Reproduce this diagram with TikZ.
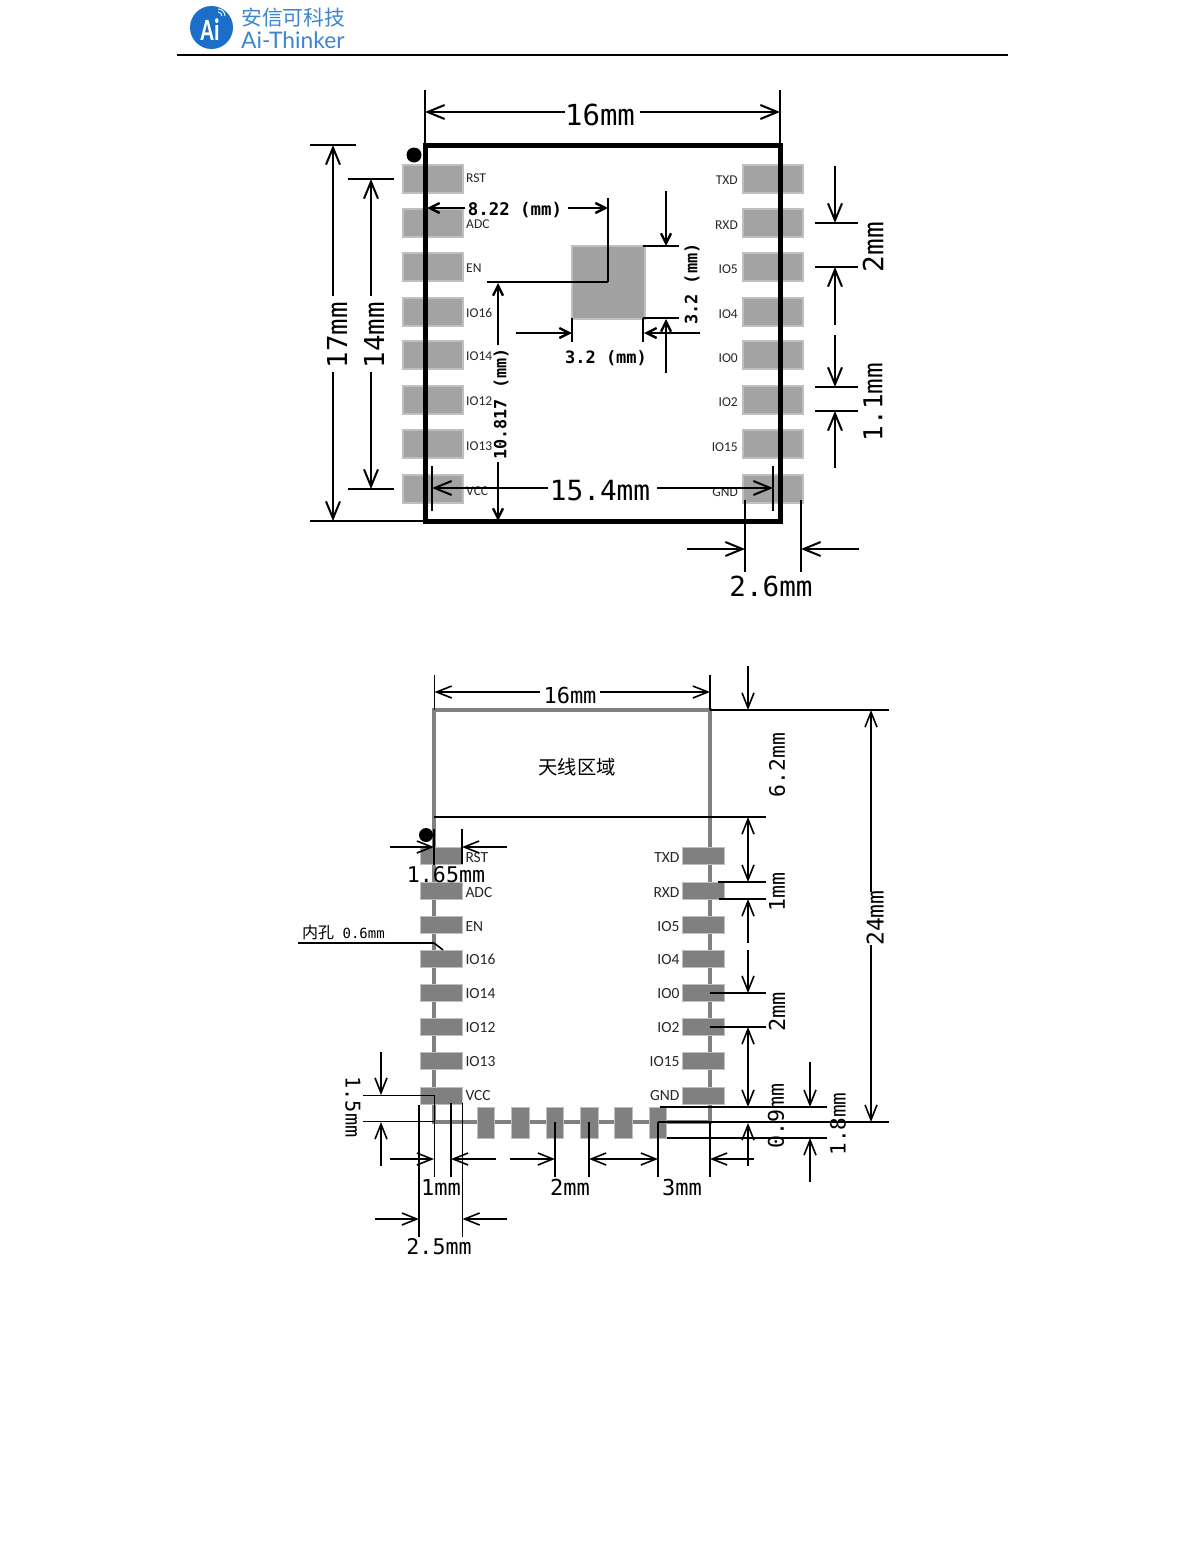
\documentclass[tikz,border=0pt]{standalone}
\usepackage{fontspec}
\usepackage{xcolor}
\usepackage{tikz}
\usetikzlibrary{arrows.meta,positioning}
\setmainfont{Carlito}
\setmonofont{DejaVu Sans Mono}
\newfontfamily\cjk{Noto Sans CJK SC}
\newfontfamily\logofont{Lato}
\definecolor{logoblue}{HTML}{1B6FC8}
\newcommand{\dimsize}[1]{\fontsize{#1}{#1}\selectfont\ttfamily}
\tikzset{
  toppad/.style={rectangle, draw=black!25, fill=black!36, line width=2, inner sep=0, minimum width=60, minimum height=28},
  botpad/.style={rectangle, draw=black!25, fill=black!50, line width=0.6, inner sep=0},
  toplabel/.style={inner sep=0, text=black!85, font=\fontsize{13.5}{13.5}\selectfont},
  botlabel/.style={inner sep=0, text=black!85, font=\fontsize{15.5}{15.5}\selectfont},
  dimtext/.style={inner sep=0},
  dimline/.style={draw=black, line width=2},
  dimarrow/.style={draw=black, line width=2, -{Straight Barb[length=17,width=14,line width=2]}},
  smallarrow/.style={draw=black, line width=2, -{Straight Barb[length=10,width=10,line width=2.4]}},
  botline/.style={draw=black, line width=1.6},
  botarrow/.style={draw=black, line width=1.6, -{Straight Barb[length=15,width=12,line width=1.6]}},
  bothead/.style={draw=black, line width=1.6, {Straight Barb[length=15,width=12,line width=1.6]}-{Straight Barb[length=15,width=12,line width=1.6]}}
}
\begin{document}
\begin{tikzpicture}[x=1pt, y=-1pt]
    \useasboundingbox (0,0) rectangle (1190,1542);

    % Logo
    \node[circle, fill=logoblue, minimum size=43, inner sep=0] (logo) at (211.5,27.5) {};
    \node[inner sep=0, text=white, font=\fontsize{31}{31}\selectfont\bfseries] (logoai) at (210,29.5) {\scalebox{0.72}[1]{Ai}};
    \draw[white, line width=0.9] (222,16) arc[start angle=0, end angle=90, radius=4pt];
    \draw[white, line width=0.9] (225,16) arc[start angle=0, end angle=90, radius=7pt];
    \node[anchor=west, inner sep=0, text=logoblue!85, font=\fontsize{20.8}{20.8}\selectfont\cjk] (logocn) at (241,18) {安信可科技};
    \node[anchor=west, inner sep=0, text=logoblue!85, font=\fontsize{22.8}{22.8}\selectfont\logofont] (logoen) at (241,40) {Ai-Thinker};
    \coordinate (headl) at (177,55);
    \coordinate (headr) at (1008,55);
    \draw[black, line width=1.2] (headl) -- (headr);

    % Pads, top view
    \foreach \i/\y/\ll/\ly/\rl/\ry in {1/178.5/RST/178/TXD/180, 2/223/ADC/224/RXD/225, 3/267/EN/268/IO5/269, 4/311.5/IO16/313/IO4/314, 5/355/IO14/356/IO0/358, 6/399.5/IO12/401/IO2/402, 7/444/IO13/446/IO15/447, 8/488.5/VCC/491/GND/492} {
      \node[toppad] (apadl\i) at (432.5,\y) {};
      \node[toppad] (apadr\i) at (773,\y) {};
      \node[toplabel, anchor=west] (alabl\i) at (466,\ly) {\ll};
      \node[toplabel, anchor=east] (alabr\i) at (738,\ry) {\rl};
    }
    \node[rectangle, draw=black!25, fill=black!37, line width=2, inner sep=0, minimum width=73, minimum height=73] (apadc) at (608,282) {};
    \node[rectangle, draw=black, line width=5, inner sep=0, minimum width=355, minimum height=376] (aboard) at (602.5,333) {};
    \node[circle, fill=black, minimum size=15, inner sep=0] (adot) at (414,155) {};

    % Witness lines, top view
    \foreach \n/\xa/\ya/\xb/\yb in {a1/425/90/425/145, a2/780/90/780/145, a3/310/145/356/145, a4/310/521/425/521, a5/348/179/394/179, a6/348/489/394/489, a7/608/198/608/282, a8/608/282/487/282, a9/432/466/432/511, a10/773/466/773/511, a11/643/246/679/246, a12/643/318/679/318, a13/643/318/643/342, a14/572/318/572/342, a15/815/223/858/223, a16/815/267/858/267, a17/815/387/858/387, a18/815/411/858/411, a19/745/500/745/572, a20/801/500/801/572} {
      \coordinate (\n-s) at (\xa,\ya);
      \coordinate (\n-e) at (\xb,\yb);
      \draw[dimline] (\n-s) -- (\n-e);
    }

    % Arrows, top view
    \foreach \n/\xa/\ya/\xb/\yb in {c1/565/112/425/112, c2/640/112/780/112, c3/333/296/333/145, c4/333/372/333/521, c5/371/296/371/179, c6/371/372/371/489, c7/548/488/432/488, c8/657/488/773/488, c9/835/166/835/223, c10/835/325/835/267, c11/835/335/835/387, c12/835/468/835/411, c13/687/549/745/549, c14/859/549/801/549} {
      \coordinate (\n-s) at (\xa,\ya);
      \coordinate (\n-e) at (\xb,\yb);
      \draw[dimarrow] (\n-s) -- (\n-e);
    }
    \foreach \n/\xa/\ya/\xb/\yb in {d1/465/208/427/208, d2/568/208/608/208, d3/498/345/498/283, d4/498/462/498/521, d5/516/333/572/333, d6/700/333/644/333, d7/666/191/666/246, d8/666/373/666/319} {
      \coordinate (\n-s) at (\xa,\ya);
      \coordinate (\n-e) at (\xb,\yb);
      \draw[smallarrow] (\n-s) -- (\n-e);
    }

    % Sizes, top view
    \node[dimtext, font=\dimsize{29}] (a16mm) at (600,115) {16mm};
    \node[dimtext, font=\dimsize{27.5}, rotate=90] (a17mm) at (337,335) {17mm};
    \node[dimtext, font=\dimsize{27.5}, rotate=90] (a14mm) at (374,335) {14mm};
    \node[dimtext, font=\dimsize{17.4}\bfseries] (a822) at (515,210) {8.22 (mm)};
    \node[dimtext, font=\dimsize{17}\bfseries] (a32h) at (606,358) {3.2 (mm)};
    \node[dimtext, font=\dimsize{17}\bfseries, rotate=90] (a32v) at (692,284) {3.2 (mm)};
    \node[dimtext, font=\dimsize{16.8}\bfseries, rotate=90] (a10817) at (501,404) {10.817 (mm)};
    \node[dimtext, font=\dimsize{27.8}] (a154) at (600,491) {15.4mm};
    \node[dimtext, font=\dimsize{27.8}, rotate=90] (a2mm) at (873,247) {2mm};
    \node[dimtext, font=\dimsize{26}, rotate=90] (a11) at (873,402) {1.1mm};
    \node[dimtext, font=\dimsize{27.6}] (a26) at (771,586) {2.6mm};

    % Board, bottom view
    \node[rectangle, draw=black!50, line width=4, inner sep=0, minimum width=276, minimum height=412] (bboard) at (572,916) {};
    \foreach \i/\y/\ll/\rl/\s in {1/856/RST/TXD/2, 2/890.5/ADC/RXD/2, 3/925/EN/IO5/1.5, 4/959/IO16/IO4/0.5, 5/993/IO14/IO0/1, 6/1027/IO12/IO2/1, 7/1061/IO13/IO15/1, 8/1096/VCC/GND/0} {
      \node[botpad, minimum width=42, minimum height=17] (bpadl\i) at (441,\y) {};
      \node[botpad, minimum width=42, minimum height=17] (bpadr\i) at (703,\y) {};
      \node[botlabel, right=3pt of bpadl\i, yshift=-\s pt] (blabl\i) {\ll};
      \node[botlabel, left=2pt of bpadr\i, yshift=-\s pt] (blabr\i) {\rl};
    }
    \foreach \i/\x in {1/486, 2/520.5, 3/555, 4/589.5, 5/623.5, 6/658} {
      \node[botpad, minimum width=17.5, minimum height=31] (bpadb\i) at (\x,1122.5) {};
    }
    \node[circle, fill=black, minimum size=14, inner sep=0] (bdot) at (426,835) {};
    \node[inner sep=0, font=\fontsize{19.3}{19.3}\selectfont\cjk] (bant) at (577,767) {天线区域};

    % Witness lines, bottom view
    \foreach \n/\xa/\ya/\xb/\yb in {b1/434.5/675/434.5/710, b2/710/675/710/710, b3/710/710/889/710, b4/434/817/766/817, b5/434/829/434/865, b6/462/829/462/864, b7/718/882/766/882, b8/719/899/766/899, b9/710/993/766/993, b10/710/1027/766/1027, b11/660/1107/827/1107, b12/658/1122/889/1122, b13/667/1138/827/1138, b14/658/1122/658/1177, b15/710/1122/710/1177, b16/555/1122/555/1177, b17/589/1122/589/1177, b18/434.5/1095/434.5/1177, b19/451/1103/451/1177, b20/419/1105/419/1237, b21/462.5/1103/462.5/1237, b22/363/1095.5/435/1095.5, b23/363/1121.5/435/1121.5, b24/298/943/434/943, b25/434/943/443/950} {
      \coordinate (\n-s) at (\xa,\ya);
      \coordinate (\n-e) at (\xb,\yb);
      \draw[botline] (\n-s) -- (\n-e);
    }

    % Arrows, bottom view
    \foreach \n/\xa/\ya/\xb/\yb in {e1/540/692/434.5/692, e2/600/692/710/692, e3/748/666/748/710, e4/748/943/748/899, e5/748/950/748/993, e6/748/1166/748/1123, e7/810/1062/810/1107, e8/810/1182/810/1138, e9/871/892/871/710, e10/871/945/871/1122, e11/390/847/434/847, e12/507/847/462/847, e13/390/1159/434/1159, e14/496/1159/451/1159, e15/510/1159/555/1159, e16/754/1159/710/1159, e17/375/1219/419/1219, e18/507/1219/462.5/1219, e19/381/1052/381/1095, e20/381/1166/381/1122} {
      \coordinate (\n-s) at (\xa,\ya);
      \coordinate (\n-e) at (\xb,\yb);
      \draw[botarrow] (\n-s) -- (\n-e);
    }
    \foreach \n/\xa/\ya/\xb/\yb in {f1/748/817/748/882, f2/748/1027/748/1107, f3/589/1159/658/1159} {
      \coordinate (\n-s) at (\xa,\ya);
      \coordinate (\n-e) at (\xb,\yb);
      \draw[bothead] (\n-s) -- (\n-e);
    }

    % Sizes, bottom view
    \node[dimtext, font=\dimsize{22}] (b16mm) at (570,695) {16mm};
    \node[dimtext, font=\dimsize{21.3}, rotate=90] (b62) at (777,765) {6.2mm};
    \node[dimtext, font=\dimsize{21.6}, rotate=90] (b1mmv) at (777,892) {1mm};
    \node[dimtext, font=\dimsize{22}, rotate=90] (b2mmv) at (777,1012) {2mm};
    \node[dimtext, font=\dimsize{23}, rotate=90] (b24) at (875,918) {24mm};
    \node[dimtext, font=\dimsize{21.6}, rotate=90] (b09) at (776,1116) {0.9mm};
    \node[dimtext, font=\dimsize{21}, rotate=90] (b18) at (838,1124) {1.8mm};
    \node[dimtext, font=\dimsize{20.3}, rotate=270] (b15) at (353,1107) {1.5mm};
    \node[dimtext, font=\dimsize{21.6}] (b165) at (446,875) {1.65mm};
    \node[dimtext, font=\dimsize{22}] (b1mmh) at (441,1187) {1mm};
    \node[dimtext, font=\dimsize{22}] (b2mmh) at (570,1187) {2mm};
    \node[dimtext, font=\dimsize{22}] (b3mm) at (682,1187) {3mm};
    \node[dimtext, font=\dimsize{21.6}] (b25mm) at (439,1247) {2.5mm};
    \node[dimtext, anchor=west, font=\dimsize{14}] (bhole) at (302,932) {{\fontsize{16}{16}\selectfont\cjk 内孔} 0.6mm};
\end{tikzpicture}
\end{document}
